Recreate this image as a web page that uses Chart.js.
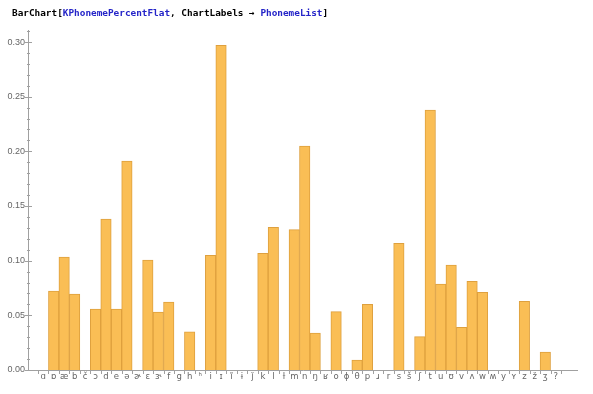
<!DOCTYPE html>
<html>
<head>
<meta charset="utf-8">
<script src="https://cdn.jsdelivr.net/npm/chart.js@4"></script>
<style>
  html, body { margin: 0; padding: 0; background: #fff; }
  #wrap { position: relative; width: 593px; height: 394px; }
  #code {
    position: absolute; left: 12px; top: 7px;
    font-family: "DejaVu Sans Mono", "Liberation Mono", monospace;
    font-weight: bold; font-size: 9.4px; color: #000; white-space: pre;
  }
  #code .sym { color: #2424c8; }
</style>
</head>
<body>
<div id="wrap">
  <canvas id="bars" width="593" height="394"></canvas>
  <div id="code">BarChart[<span class="sym">KPhonemePercentFlat</span>, ChartLabels → <span class="sym">PhonemeList</span>]</div>
</div>
<script>
var phonemes = ['ɑ','ɒ','æ','b','č','ɔ','d','e','ə','ɚ','ɛ','ɝ','f','g','h','ʰ',
  'i','ɪ','ĩ','ɨ','ǰ','k','l','ɫ','m','n','ŋ','ʁ','o','ɸ','θ','p','ɹ','r',
  's','š','ʃ','t','u','ʊ','v','ʌ','w','ʍ','y','ʏ','z','ž','ʒ','?'];

var percents = [0, 0.0723, 0.1033, 0.0695, 0, 0.0558, 0.138, 0.0558, 0.191, 0, 0.1006, 0.053, 0.0622, 0, 0.0348, 0,
  0.105, 0.297, 0, 0, 0, 0.1067, 0.1305, 0, 0.1284, 0.2049, 0.0338, 0, 0.0534, 0, 0.0091, 0.060, 0, 0,
  0.1159, 0, 0.0305, 0.2378, 0.0787, 0.096, 0.039, 0.0811, 0.0711, 0, 0, 0, 0.0628, 0, 0.0165, 0];

var yTicks = [0, 0.05, 0.10, 0.15, 0.20, 0.25, 0.30];

// mathematica style frame: axes sit a bit outside the bars
var axesPlugin = {
  id: 'axes',
  afterDraw: function(chart) {
    var c = chart.ctx, a = chart.chartArea;
    var x = chart.scales.x, y = chart.scales.y;
    var ax = a.left - 10, ay = a.bottom;
    c.save();
    c.strokeStyle = '#a0a0a0';
    c.lineWidth = 1;
    c.beginPath();
    c.moveTo(ax + 0.5, a.top);
    c.lineTo(ax + 0.5, ay + 0.5);
    c.lineTo(a.right + 17, ay + 0.5);
    // major y ticks
    yTicks.forEach(function(v) {
      var py = Math.round(y.getPixelForValue(v)) + 0.5;
      c.moveTo(ax - 3, py);
      c.lineTo(ax + 4, py);
    });
    // minor y ticks
    for (var k = 0; k <= 31; k++) {
      if (k % 5 === 0) continue;
      var py = Math.round(y.getPixelForValue(k / 100)) + 0.5;
      c.moveTo(ax - 1, py);
      c.lineTo(ax + 2, py);
    }
    // x ticks at category edges
    var w = (a.right - a.left) / phonemes.length;
    for (var i = 0; i <= phonemes.length; i++) {
      var px = Math.round(a.left + i * w) + 0.5;
      c.moveTo(px, ay);
      c.lineTo(px, ay + 4);
    }
    c.stroke();
    c.restore();
  }
};

var ctx = document.getElementById('bars').getContext('2d');
var chart = new Chart(ctx, {
  type: 'bar',
  data: {
    labels: phonemes,
    datasets: [{
      data: percents,
      backgroundColor: 'rgb(250,190,85)',
      borderColor: 'rgb(222,160,62)',
      borderWidth: 1,
      barPercentage: 1,
      categoryPercentage: 1
    }]
  },
  options: {
    responsive: false,
    animation: false,
    devicePixelRatio: 1,
    layout: { padding: { top: 30, right: 32, bottom: 0, left: 0 } },
    plugins: { legend: { display: false }, tooltip: { enabled: false } },
    scales: {
      x: {
        offset: true,
        grid: { display: false, drawTicks: false },
        border: { display: false },
        ticks: {
          autoSkip: false, maxRotation: 0, padding: 2,
          color: '#666', font: { family: 'DejaVu Sans', size: 8.5 }
        },
        afterFit: function(s) { s.height = 24; }
      },
      y: {
        min: 0, max: 0.311,
        grid: { display: false, drawTicks: false },
        border: { display: false },
        ticks: {
          stepSize: 0.05, includeBounds: false, padding: 13,
          color: '#666', font: { family: 'Liberation Sans', size: 9 },
          callback: function(v) { return v.toFixed(2); }
        },
        afterFit: function(s) { s.width = 38; }
      }
    }
  },
  plugins: [axesPlugin]
});
</script>
</body>
</html>
